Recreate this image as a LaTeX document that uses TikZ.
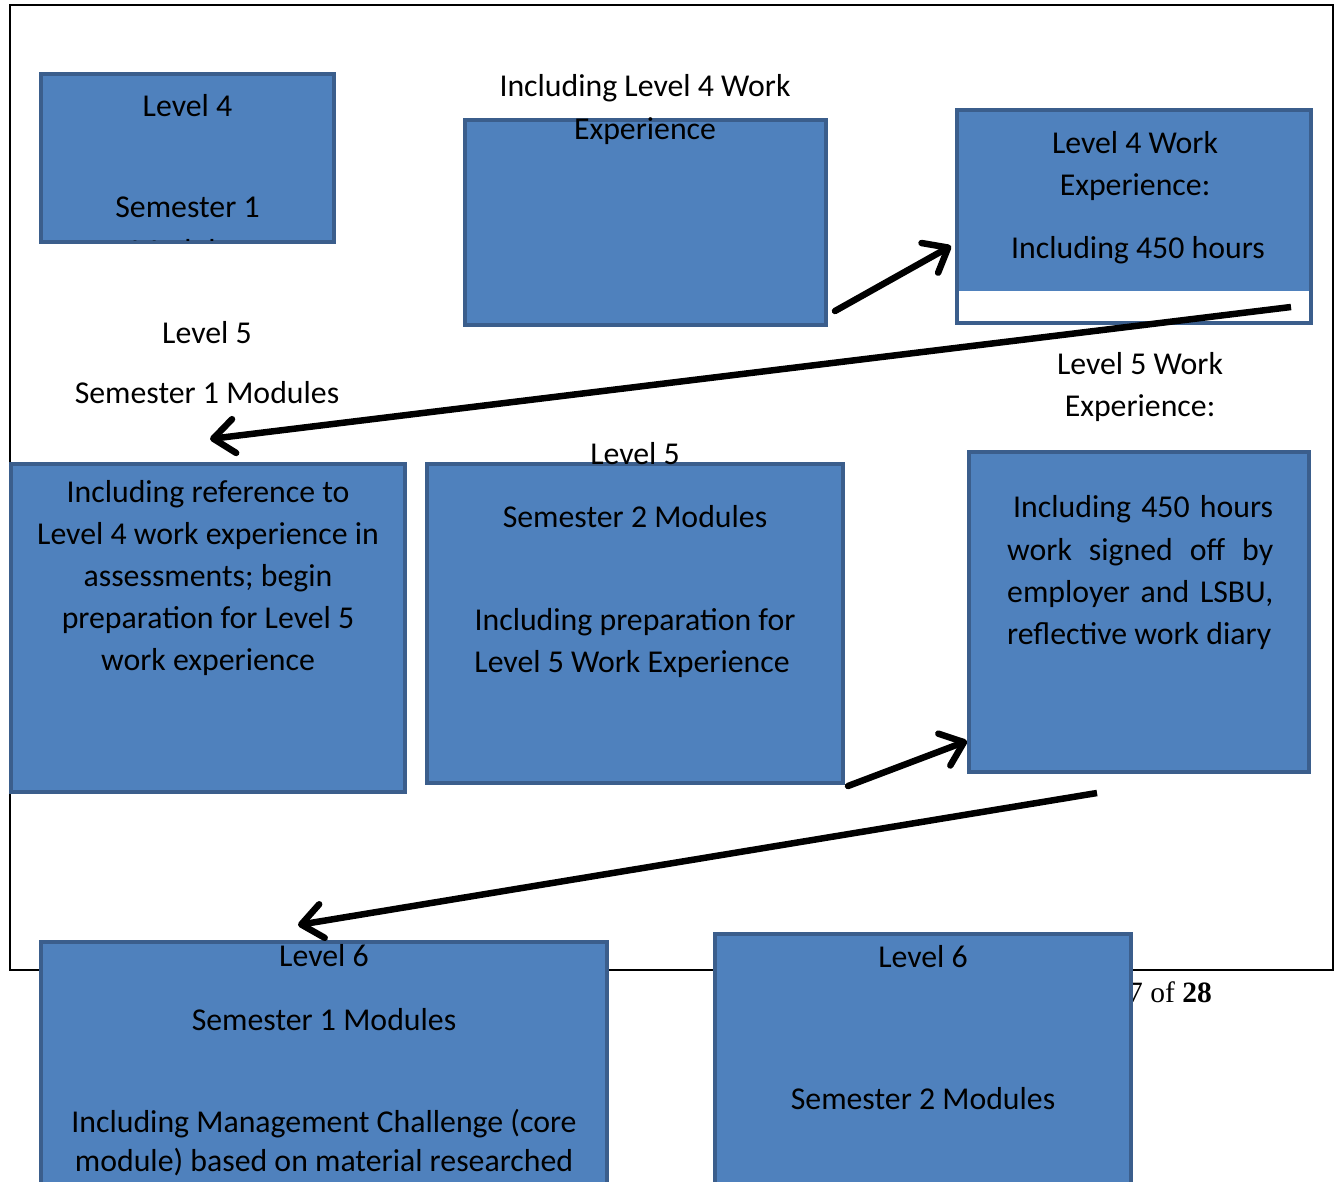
\documentclass[tikz,border=0pt]{standalone}
\usepackage{fontspec}
\setmainfont{Carlito}
\newfontfamily\footfont{Liberation Serif}
\usetikzlibrary{arrows.meta}
\definecolor{boxfill}{HTML}{4F81BD}
\definecolor{boxline}{HTML}{3B5E8C}
\newcommand\lblfont{\fontsize{31.8}{42}\selectfont}
\tikzset{
  box/.style={draw=boxline, line width=4pt, fill=boxfill, inner sep=0pt, rectangle},
  ln/.style={font=\lblfont, anchor=base, inner sep=0pt, text=black},
  lnw/.style={font=\lblfont, anchor=base west, inner sep=0pt, text=black},
  flow/.style={line width=6.5pt, line cap=round, -{Straight Barb[length=21pt,width=34pt,line cap=round,line join=round]}},
}
\begin{document}
\begin{tikzpicture}[x=1pt,y=-1pt]
\useasboundingbox (0,0) rectangle (1341,1182);
\clip (0,0) rectangle (1341,1182);
% page frame
\draw[line width=1.5pt] (10,5) rectangle (1333,970);
% footer (mostly hidden)
\node[font=\footfont\fontsize{29.5}{33}\selectfont, anchor=base east, inner sep=0pt] (foot) at (1212,1002) {Page 27 of \textbf{28}};

% boxes
\node[box, minimum width=293pt, minimum height=168pt] (b1) at (187.5,158) {};
\node[box, minimum width=361pt, minimum height=205pt] (b2) at (645.5,222.5) {};
\node[box, fill=white, minimum width=354pt, minimum height=213pt] (b3) at (1134,216.5) {};
\fill[boxfill] (959,112) rectangle (1309,291);
\node[box, minimum width=394pt, minimum height=328pt] (b4) at (208,628) {};
\node[box, minimum width=416pt, minimum height=319pt] (b5) at (635,623.5) {};
\node[box, minimum width=340pt, minimum height=320pt] (b6) at (1139,612) {};
\node[box, minimum width=566pt, minimum height=358pt] (b7) at (324,1121) {};
\node[box, minimum width=416pt, minimum height=366pt] (b8) at (923,1117) {};

% box 1
\node[ln] (t1a) at (187.5,116.5) {Level 4};
\node[ln] (t1b) at (187.5,217.5) {Semester 1};
\begin{scope}
\clip (39,72) rectangle (336,241);
\node[ln] (t1c) at (187.5,262) {Modules};
\end{scope}
% box 2
\node[ln] (t2a) at (645,96.5) {Including Level 4 Work};
\node[ln] (t2b) at (645,139.5) {Experience};
% box 3
\node[ln] (t3a) at (1135,153.5) {Level 4 Work};
\node[ln] (t3b) at (1135,195.5) {Experience:};
\node[ln] (t3c) at (1138,258.5) {Including 450 hours};
% level 5 semester 1 heading
\node[ln] (t4a) at (207,343.5) {Level 5};
\node[ln] (t4b) at (207,403.5) {Semester 1 Modules};
% box 4
\node[ln] (t4c) at (208,502.5) {Including reference to};
\node[ln] (t4d) at (208,544.5) {Level 4 work experience in};
\node[ln] (t4e) at (208,586.5) {assessments; begin};
\node[ln] (t4f) at (208,628.5) {preparation for Level 5};
\node[ln] (t4g) at (208,670.5) {work experience};
% box 5
\node[ln] (t5a) at (635,464.5) {Level 5};
\node[ln] (t5b) at (635,527.5) {Semester 2 Modules};
\node[ln] (t5c) at (635,630.5) {Including preparation for};
\node[ln] (t5d) at (632,672.5) {Level 5 Work Experience};
% level 5 work experience heading
\node[ln] (t6a) at (1140,374.5) {Level 5 Work};
\node[ln] (t6b) at (1140,416.5) {Experience:};
% box 6 (justified)
\node[lnw] (t6c) at (1013,517.5) {\makebox[260pt][s]{Including 450 hours}};
\node[lnw] (t6d) at (1007,560.5) {\makebox[266pt][s]{work signed off by}};
\node[lnw] (t6e) at (1007,602.5) {\makebox[266pt][s]{employer and LSBU,}};
\node[lnw] (t6f) at (1007,644.5) {reflective work diary};
% box 7
\node[ln] (t7a) at (324,966.5) {Level 6};
\node[ln] (t7b) at (324,1030.5) {Semester 1 Modules};
\node[ln] (t7c) at (324,1132.5) {Including Management Challenge (core};
\node[ln] (t7d) at (324,1171.5) {module) based on material researched};
% box 8
\node[ln] (t8a) at (923,967.5) {Level 6};
\node[ln] (t8b) at (923,1109.5) {Semester 2 Modules};

% connector ends
\coordinate (a1s) at (835,311);
\coordinate (a1e) at (951,246);
\coordinate (a2s) at (1291,307);
\coordinate (a2e) at (210,439);
\coordinate (a3s) at (848,786);
\coordinate (a3e) at (967,741);
\coordinate (a4s) at (1097,793);
\coordinate (a4e) at (298,925);
\draw[flow] (a1s) -- (a1e);
\draw[flow, line cap=butt] (a2s) -- (a2e);
\draw[flow] (a3s) -- (a3e);
\draw[flow, line cap=butt] (a4s) -- (a4e);
\end{tikzpicture}
\end{document}
